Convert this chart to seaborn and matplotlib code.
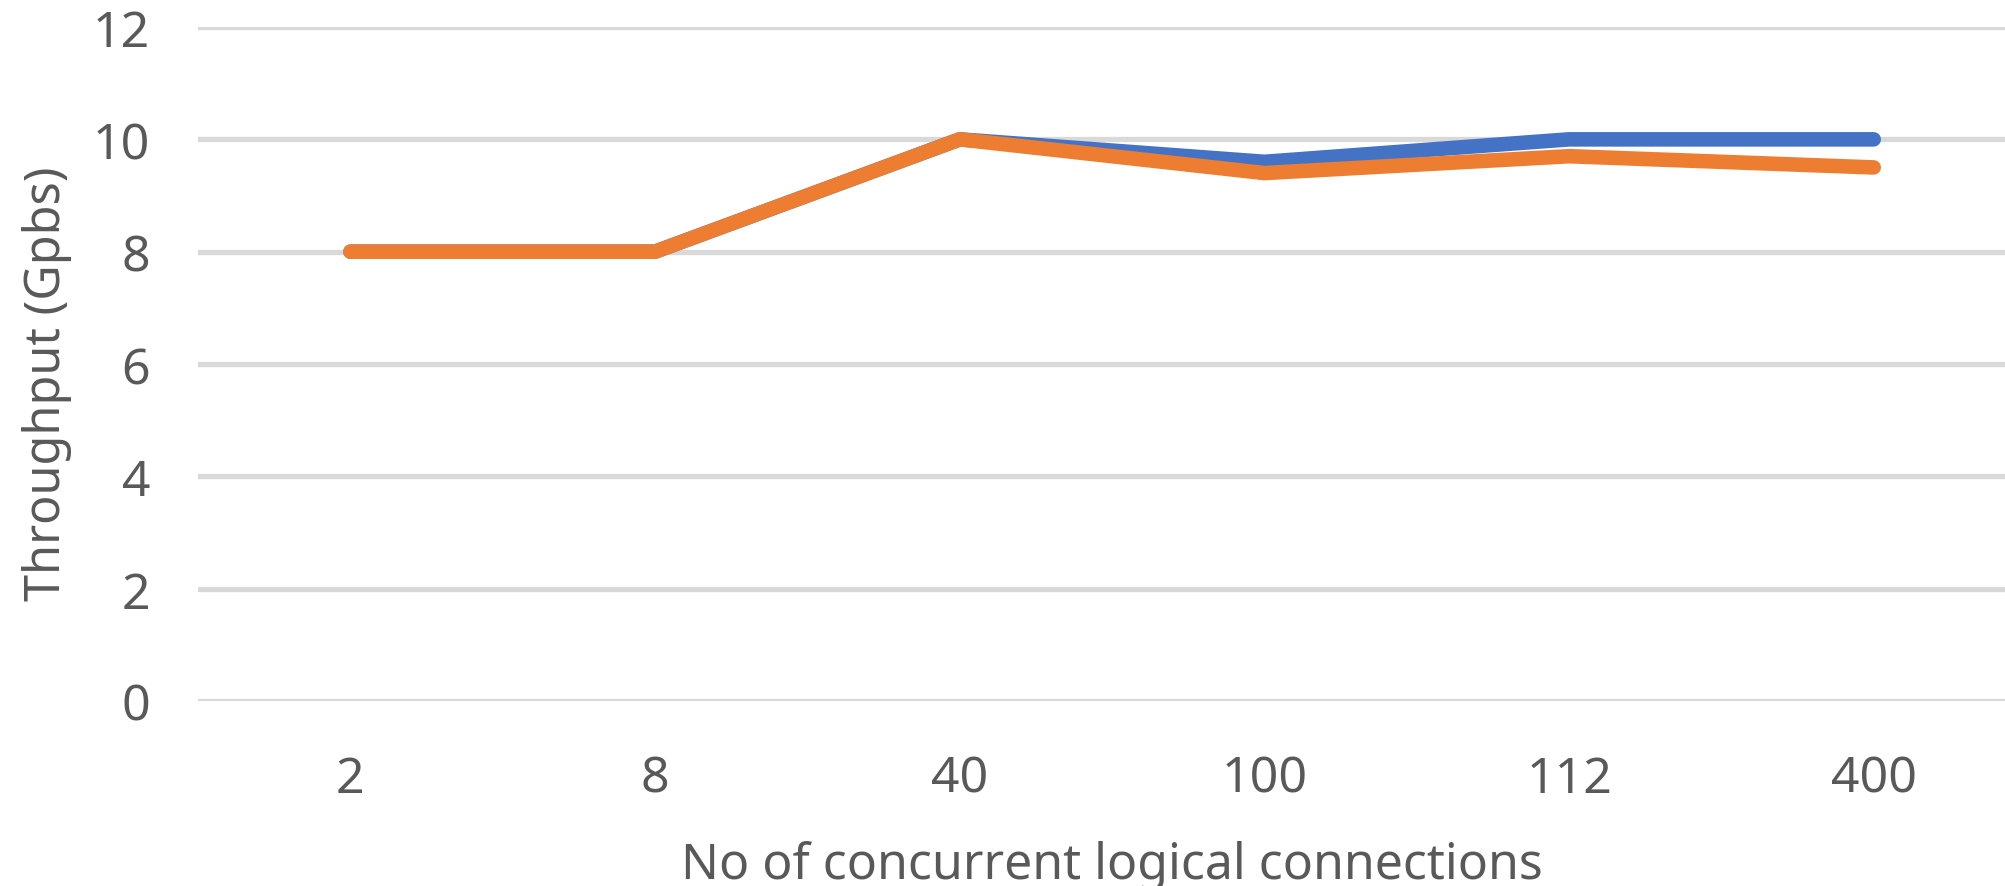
import numpy as np
import pandas as pd
import matplotlib
matplotlib.use("Agg")
import matplotlib.pyplot as plt
import seaborn as sns

# Chart data
connections = ["2", "8", "40", "100", "112", "400"]
series_1 = [8, 8, 10, 9.6, 10, 10]
series_2 = [8, 8, 10, 9.4, 9.7, 9.5]
y_ticks = [0, 2, 4, 6, 8, 10, 12]

df = pd.DataFrame({
    "conn": connections * 2,
    "tp": series_1 + series_2,
    "series": ["Series1"] * len(connections) + ["Series2"] * len(connections),
})

sns.set_style("white")
plt.rcParams["font.family"] = ["Noto Sans", "DejaVu Sans"]

text_col = "#595959"
fig = plt.figure(figsize=(20.05, 8.87), dpi=100)
ax = fig.add_axes([0.0988, 0.2086, 0.9117, 0.7598])

sns.lineplot(data=df, x="conn", y="tp", hue="series", sort=False,
             palette=["#4472C4", "#ED7D31"], linewidth=10.5, legend=False,
             solid_capstyle="round", ax=ax, zorder=3)

ax.set_xlim(-0.5, len(connections) - 0.5)
ax.set_ylim(0, 12)
ax.set_yticks(y_ticks)
ax.yaxis.grid(True, color="#d9d9d9", linewidth=3.8)
ax.set_axisbelow(True)
for s in ax.spines.values():
    s.set_visible(False)

ax.tick_params(axis="both", length=0, labelsize=36, colors=text_col)
ax.tick_params(axis="y", pad=34.5)
ax.tick_params(axis="x", pad=38)

ax.set_xlabel("No of concurrent logical connections", fontsize=36, color=text_col, labelpad=26)
ax.set_ylabel("Throughput (Gpbs)", fontsize=35, color=text_col)
ax.yaxis.set_label_coords(-0.069, 0.472)

fig.savefig("out.png", dpi=100)
